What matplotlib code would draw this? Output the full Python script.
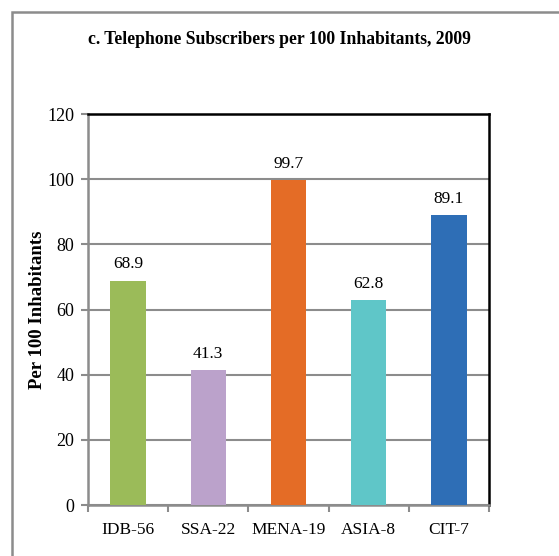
import matplotlib.pyplot as plt
from matplotlib.patches import Rectangle

# data
groups = ["IDB-56", "SSA-22", "MENA-19", "ASIA-8", "CIT-7"]
values = [68.9, 41.3, 99.7, 62.8, 89.1]
colors = ["#9BBB59", "#BBA2CB", "#E46C26", "#5FC6C8", "#2E6EB6"]

plt.rcParams["font.family"] = ["Liberation Serif", "DejaVu Serif"]

fig = plt.figure(figsize=(5.59, 5.56), dpi=100)
ax = fig.add_axes([88 / 559, 1 - 505 / 556, (489 - 88) / 559, (505 - 114) / 556])

x = list(range(len(groups)))
ax.bar(x, values, width=0.44, color=colors, zorder=3)
for xi, v in zip(x, values):
    ax.text(xi, v + 2.5, f"{v:.1f}", ha="center", va="bottom", fontsize=12.5)

ax.set_xlim(-0.5, len(groups) - 0.5)
ax.set_ylim(0, 120)
ax.set_yticks(range(0, 121, 20))
ax.yaxis.grid(True, color="#8C8C8C", linewidth=1.5, zorder=0)
ax.set_xticks(x)
ax.set_xticklabels(groups, fontsize=12.5)
ax.set_xticks([i - 0.5 for i in range(len(groups) + 1)], minor=True)
ax.tick_params(axis="x", which="major", length=0, pad=12)
ax.tick_params(axis="x", which="minor", length=5, width=1.5, color="#8C8C8C", direction="out")
ax.tick_params(axis="y", length=5, width=1.5, color="#8C8C8C", labelsize=13, pad=5)

for s in ["left", "bottom"]:
    ax.spines[s].set_color("#8C8C8C")
    ax.spines[s].set_linewidth(1.8)
for s in ["top", "right"]:
    ax.spines[s].set_color("black")
    ax.spines[s].set_linewidth(1.8)

ax.set_ylabel("Per 100 Inhabitants", fontsize=13.5, fontweight="bold", labelpad=1)

fig.text(0.5, 1 - 40 / 556, "c. Telephone Subscribers per 100 Inhabitants, 2009",
         ha="center", va="center", fontsize=12.7, fontweight="bold")

# outer chart border (extends past the right and bottom edges)
fig.patches.append(Rectangle((12 / 559, -0.1), 1.2, 1 - 12 / 556 + 0.1,
                             transform=fig.transFigure, fill=False,
                             edgecolor="#8C8C8C", linewidth=1.8))

fig.savefig("out.png", dpi=100)
